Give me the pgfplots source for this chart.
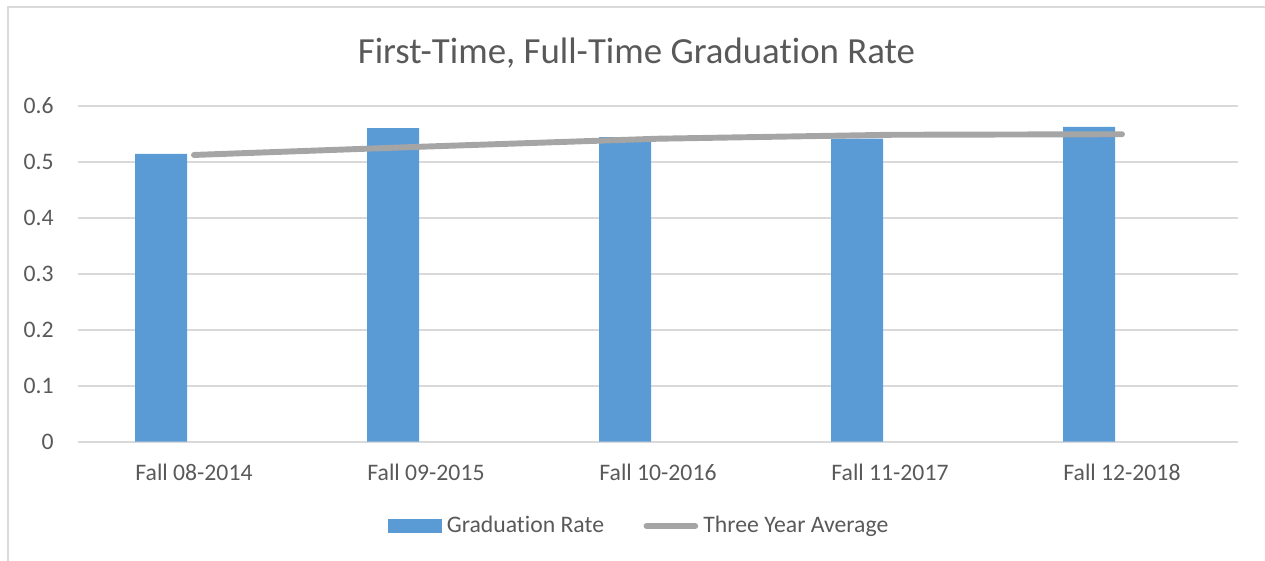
\documentclass[border=0pt]{standalone}
\usepackage{pgfplots}
\pgfplotsset{compat=1.18}
\usepackage{fontspec}
\setmainfont{Carlito}[Ligatures={NoCommon,NoRare}]
\definecolor{barblue}{HTML}{5B9BD5}
\definecolor{linegray}{HTML}{A5A5A5}
\definecolor{txtgray}{HTML}{595959}
\definecolor{gridgray}{HTML}{D9D9D9}
\newcommand{\Ti}{t\kern0pt i}
\begin{document}
\begin{tikzpicture}[x=0.38pt,y=0.38pt]
\useasboundingbox (0,0) rectangle (1265,560);
\begin{scope}
\clip (0,0) rectangle (1265,560);
\draw[gridgray, line width=0.75pt] (8,553) rectangle (1290,-30);
\end{scope}
\node[anchor=base, text=txtgray, font=\fontsize{14}{16.8}\selectfont, inner sep=0pt] at (636.5,497) {First-Time, Full-Time Gradua\Ti on Rate};
\begin{axis}[
  at={(29.64pt,44.95pt)}, anchor=south west,
  width=440.8pt, height=127.7pt, scale only axis,
  xmin=-0.5, xmax=4.5, ymin=0, ymax=0.6,
  axis line style={draw=none},
  major tick length=0pt,
  ymajorgrids, grid style={gridgray, line width=0.65pt},
  xtick={0,1,2,3,4},
  xticklabels={Fall 08-2014, Fall 09-2015, Fall 10-2016, Fall 11-2017, Fall 12-2018},
  ytick={0,0.1,0.2,0.3,0.4,0.5,0.6},
  yticklabels={0,0.1,0.2,0.3,0.4,0.5,0.6},
  tick label style={font=\fontsize{9}{10.8}\selectfont, text=txtgray},
  xticklabel style={anchor=base, yshift=-14.8pt},
  yticklabel style={xshift=-5.7pt},
  legend style={at={(0.485,-0.251)}, anchor=center, draw=none, fill=none,
    legend columns=2, font=\fontsize{9}{10.8}\selectfont, text=txtgray,
    /tikz/every even column/.append style={column sep=13pt}},
  legend cell align=left,
]
\addplot[ybar, bar width=19.8pt, bar shift=-12.5pt, fill=barblue, draw=none,
  legend image code/.code={\fill[barblue] (0pt,-2.7pt) rectangle (20.5pt,2.7pt);}]
  coordinates {(0,0.514) (1,0.560) (2,0.544) (3,0.541) (4,0.562)};
\addlegendentry{Gradua\Ti on Rate}
\addplot[linegray, line width=2.25pt, line cap=round, mark=none,
  legend image code/.code={\draw[linegray, line width=2.25pt, line cap=round] (1.5pt,0pt) -- (20pt,0pt);}]
  coordinates {(0,0.512) (1,0.527) (2,0.541) (3,0.548) (4,0.549)};
\addlegendentry{Three Year Average}
\end{axis}
\end{tikzpicture}
\end{document}
